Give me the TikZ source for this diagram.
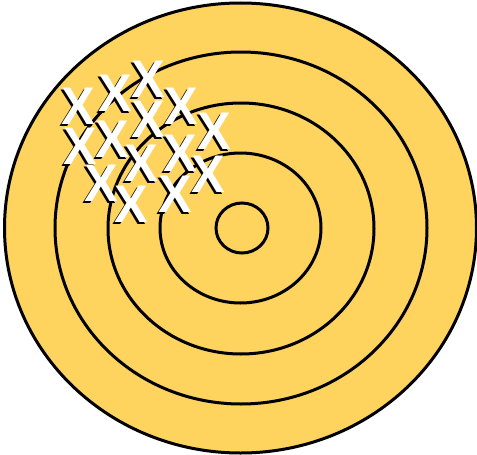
\documentclass[tikz,border=0pt]{standalone}
\usepackage{fontspec}
\setmainfont{Liberation Sans}
\newfontfamily\xfont{Liberation Sans}[UprightFont={* Bold}]
\definecolor{target}{HTML}{FED35E}
\tikzset{
  ring/.style={draw=black, line width=3pt},
  xbase/.style={font=\xfont\fontsize{53}{53}\selectfont, inner sep=0pt, xscale=0.95, transform shape},
  xmark/.style={xbase, text=white},
  xshadow/.style={xbase, text=black}
}
\newcommand{\markx}[3]{%
  \node[xshadow] (#1s) at (#2-1.8,#3+1.8) {X};
  \node[xmark] (#1) at (#2,#3) {X};}
\begin{document}
\begin{tikzpicture}[x=1pt,y=-1pt]
\useasboundingbox (0,0) rectangle (477,455);
\draw[ring, fill=target] (240.5,228) ellipse [x radius=236, y radius=225];
\draw[ring] (241,228) ellipse [x radius=186, y radius=176];
\draw[ring] (241,228.5) ellipse [x radius=133, y radius=125.5];
\draw[ring] (240.5,228) ellipse [x radius=80.5, y radius=75];
\draw[ring] (242,228) ellipse [x radius=26, y radius=25];
\markx{x1}{78}{106}
\markx{x2}{115}{93}
\markx{x3}{148}{79}
\markx{x4}{181}{106}
\markx{x5}{148}{119}
\markx{x6}{214}{131}
\markx{x7}{80}{146}
\markx{x8}{112}{139}
\markx{x9}{141}{163}
\markx{x10}{180}{153}
\markx{x11}{208}{174}
\markx{x12}{101}{183}
\markx{x13}{131}{204}
\markx{x14}{175}{194}
\end{tikzpicture}
\end{document}
